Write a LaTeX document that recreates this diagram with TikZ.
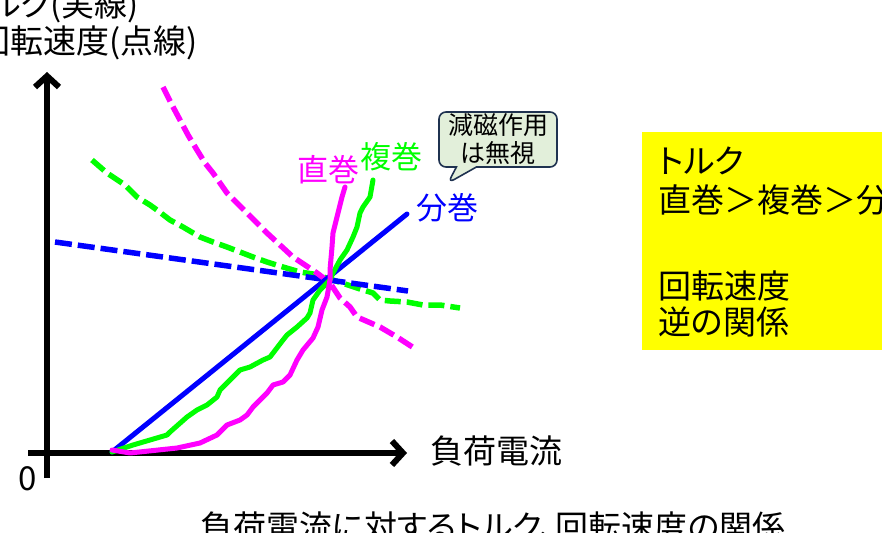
\documentclass[tikz,border=0pt]{standalone}
\usepackage{fontspec}
\newfontfamily\jp[RawFeature=+palt]{Noto Sans CJK JP}
\usetikzlibrary{arrows.meta,shapes.callouts}
\definecolor{mag}{RGB}{255,0,255}
\definecolor{grn}{RGB}{0,255,0}
\definecolor{blu}{RGB}{0,0,255}
\definecolor{ylw}{RGB}{255,255,0}
\definecolor{cfill}{RGB}{226,239,218}
\definecolor{cedge}{RGB}{31,50,80}
\tikzset{
  lab/.style={font=\jp\fontsize{33}{40}\selectfont, inner sep=0pt},
  curve/.style={line width=5pt, line join=round, line cap=round},
  dashcurve/.style={line width=5.5pt, line join=round, line cap=butt, dash pattern=on 16pt off 6pt},
  axis/.style={line width=6pt, -{Straight Barb[length=11pt,width=24pt]}},
}
\begin{document}
\begin{tikzpicture}[x=1pt,y=-1pt]
\useasboundingbox (0,0) rectangle (882,532);
% yellow summary box
\fill[ylw] (642,132) rectangle (890,350);
\node[lab, anchor=west] (b1) at (658,161) {トルク};
\node[lab, anchor=west] (b2) at (658,200) {直巻＞複巻＞分巻};
\node[lab, anchor=west] (b4) at (658,286) {回転速度};
\node[lab, anchor=west] (b5) at (658,322) {逆の関係};
% axes
\coordinate (o) at (47,453);
\draw[axis] (47,478) -- (47,72);
\draw[axis] (28,453) -- (407,453);
\node[lab] (zero) at (28,479) {0};
\node[lab] (xl) at (496,451) {負荷電流};
\node[lab, anchor=east] (yl1) at (139,6) {トルク(実線)};
\node[lab, anchor=east] (yl2) at (198,43) {回転速度(点線)};
% speed curves (dashed)
\draw[dashcurve, grn] plot coordinates {(92,160) (107,173) (125,185) (137,197) (150,205) (157,210) (170,220) (183,227) (200,237) (213,242) (227,247) (240,252) (253,257) (267,262) (283,267) (300,272) (313,274) (330,279) (357,288) (373,293) (380,300) (390,301) (407,302) (423,305) (440,305) (460,308)};
\draw[dashcurve, blu, dash pattern=on 17pt off 6pt] (55,242) -- (408,291);
\draw[dashcurve, mag] plot coordinates {(163,87) (172,105) (180,120) (188,135) (197,150) (205,163) (213,173) (220,183) (227,193) (237,203) (247,213) (257,223) (267,233) (280,245) (293,257) (305,265) (317,273) (330,283) (340,298) (350,307) (357,317) (380,327) (397,337) (417,350)};
% torque curves (solid)
\draw[curve, blu] (112,452) -- (407,214);
\draw[curve, grn] plot coordinates {(112,452) (133,445) (167,435) (170,432) (187,417) (197,410) (207,405) (217,397) (220,390) (240,370) (250,367) (263,360) (270,357) (283,340) (287,335) (297,327) (307,318) (310,313) (313,300) (320,290) (330,280) (333,273) (340,260) (347,250) (353,237) (357,227) (360,213) (363,207) (370,197) (373,180)};
\draw[curve, mag] plot coordinates {(112,450) (130,453) (177,448) (200,443) (217,435) (227,425) (240,420) (247,415) (253,407) (267,393) (273,385) (283,382) (290,375) (297,360) (303,350) (313,338) (318,327) (322,310) (327,297) (330,280) (330,270) (332,247) (333,233) (338,213) (342,197) (345,187)};
% curve labels
\node[lab, text=mag, font=\jp\fontsize{31}{36}\selectfont] (lc) at (328,170) {直巻};
\node[lab, text=grn, font=\jp\fontsize{31}{36}\selectfont] (lk) at (391,157) {複巻};
\node[lab, text=blu, font=\jp\fontsize{31}{36}\selectfont] (lb) at (447,208) {分巻};
% callout
\node[rectangle callout, callout absolute pointer={(448,183)}, callout pointer width=20pt,
      draw=cedge, line width=1.6pt, fill=cfill, rounded corners=7pt,
      minimum width=118pt, minimum height=55pt, inner sep=0pt, align=center,
      font=\jp\fontsize{25}{28}\selectfont] (note) at (498,139.5) {減磁作用\\は無視};
% caption
\node[lab] (cap) at (493,527) {負荷電流に対するトルク、回転速度の関係};
\end{tikzpicture}
\end{document}
